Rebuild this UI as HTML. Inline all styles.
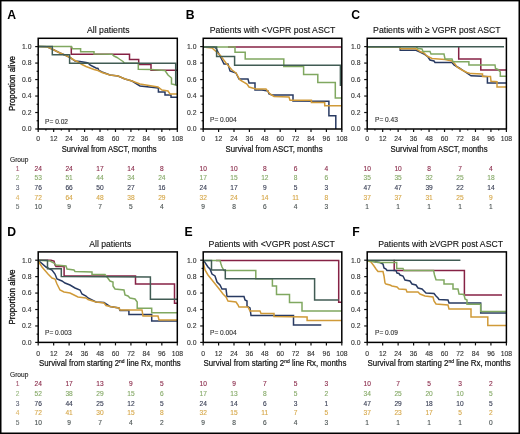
<!DOCTYPE html>
<html><head><meta charset="utf-8"><style>html,body{margin:0;padding:0;background:#fff;width:520px;height:434px;overflow:hidden}</style></head>
<body>
<svg width="520" height="434" viewBox="0 0 520 434" style="display:block;will-change:transform;font-family:'Liberation Sans', sans-serif">
<rect x="0" y="0" width="520" height="434" fill="#fff"/>
<polyline points="71.30,46.00 71.30,54.30 129.50,54.30 129.50,59.40 138.70,59.40 138.70,64.40 151.00,64.40 151.00,70.20 177.30,70.20" fill="none" stroke="#862245" stroke-width="1.5" stroke-linejoin="miter" stroke-linecap="butt"/>
<polyline points="38.20,46.60 47.00,46.80 52.00,49.00 60.00,53.00 66.00,55.50 70.00,57.50 75.00,61.00 80.00,61.50 86.00,62.50 88.00,63.00 90.00,65.00 93.00,66.50 96.00,68.00 98.00,68.50 99.00,70.50 102.00,72.00 110.00,75.00 118.00,76.00 125.00,79.00 132.00,81.00 140.00,86.00 158.40,88.00 158.40,92.00 165.00,92.00 165.00,95.00 171.00,95.00 171.00,97.20 177.30,97.20" fill="none" stroke="#283a62" stroke-width="1.5" stroke-linejoin="miter" stroke-linecap="butt"/>
<polyline points="38.20,46.60 47.00,46.80 52.00,49.00 60.00,53.00 66.00,55.50 70.00,57.50 74.00,60.00 78.00,62.00 82.00,64.50 86.00,66.50 90.00,68.00 94.00,69.50 98.00,70.50 102.00,72.50 110.00,75.00 118.00,76.00 125.00,79.00 132.00,81.00 140.00,84.00 146.00,85.00 158.00,87.00 162.00,90.00 168.00,91.00 170.00,94.00 177.30,94.00" fill="none" stroke="#d09a38" stroke-width="1.5" stroke-linejoin="miter" stroke-linecap="butt"/>
<polyline points="38.20,46.60 71.50,46.60 72.50,48.80 80.60,48.80 80.60,51.80 94.00,51.80 94.00,53.90 112.00,54.20 114.00,56.00 117.00,57.50 120.00,59.50 123.00,61.50 124.50,63.30 138.30,63.30 138.30,69.30 151.00,69.60 165.00,70.50 168.00,75.00 171.50,78.00 171.50,84.00 174.00,84.50 177.30,85.50" fill="none" stroke="#80a860" stroke-width="1.5" stroke-linejoin="miter" stroke-linecap="butt"/>
<polyline points="38.20,46.60 52.30,46.60 52.30,54.70 69.60,54.70 69.60,63.30 175.70,63.30 175.70,85.20" fill="none" stroke="#415c54" stroke-width="1.5" stroke-linejoin="miter" stroke-linecap="butt"/>
<rect x="38.20" y="38.30" width="139.10" height="90.70" fill="none" stroke="#000" stroke-width="1.5"/>
<line x1="35.20" y1="129.00" x2="38.20" y2="129.00" stroke="#111" stroke-width="1.2"/>
<text x="31.50" y="131.40" font-size="6.8" text-anchor="end" fill="#333" font-weight="normal" stroke="#333" stroke-width="0.12" >0.0</text>
<line x1="36.60" y1="120.76" x2="38.20" y2="120.76" stroke="#111" stroke-width="1.2"/>
<line x1="35.20" y1="112.52" x2="38.20" y2="112.52" stroke="#111" stroke-width="1.2"/>
<text x="31.50" y="114.92" font-size="6.8" text-anchor="end" fill="#333" font-weight="normal" stroke="#333" stroke-width="0.12" >0.2</text>
<line x1="36.60" y1="104.28" x2="38.20" y2="104.28" stroke="#111" stroke-width="1.2"/>
<line x1="35.20" y1="96.04" x2="38.20" y2="96.04" stroke="#111" stroke-width="1.2"/>
<text x="31.50" y="98.44" font-size="6.8" text-anchor="end" fill="#333" font-weight="normal" stroke="#333" stroke-width="0.12" >0.4</text>
<line x1="36.60" y1="87.80" x2="38.20" y2="87.80" stroke="#111" stroke-width="1.2"/>
<line x1="35.20" y1="79.56" x2="38.20" y2="79.56" stroke="#111" stroke-width="1.2"/>
<text x="31.50" y="81.96" font-size="6.8" text-anchor="end" fill="#333" font-weight="normal" stroke="#333" stroke-width="0.12" >0.6</text>
<line x1="36.60" y1="71.32" x2="38.20" y2="71.32" stroke="#111" stroke-width="1.2"/>
<line x1="35.20" y1="63.08" x2="38.20" y2="63.08" stroke="#111" stroke-width="1.2"/>
<text x="31.50" y="65.48" font-size="6.8" text-anchor="end" fill="#333" font-weight="normal" stroke="#333" stroke-width="0.12" >0.8</text>
<line x1="36.60" y1="54.84" x2="38.20" y2="54.84" stroke="#111" stroke-width="1.2"/>
<line x1="35.20" y1="46.60" x2="38.20" y2="46.60" stroke="#111" stroke-width="1.2"/>
<text x="31.50" y="49.00" font-size="6.8" text-anchor="end" fill="#333" font-weight="normal" stroke="#333" stroke-width="0.12" >1.0</text>
<line x1="38.20" y1="129.00" x2="38.20" y2="132.00" stroke="#111" stroke-width="1.2"/>
<text x="38.20" y="140.80" font-size="6.8" text-anchor="middle" fill="#333" font-weight="normal" stroke="#333" stroke-width="0.12" >0</text>
<line x1="45.93" y1="129.00" x2="45.93" y2="130.40" stroke="#111" stroke-width="1.2"/>
<line x1="53.66" y1="129.00" x2="53.66" y2="132.00" stroke="#111" stroke-width="1.2"/>
<text x="53.66" y="140.80" font-size="6.8" text-anchor="middle" fill="#333" font-weight="normal" stroke="#333" stroke-width="0.12" >12</text>
<line x1="61.38" y1="129.00" x2="61.38" y2="130.40" stroke="#111" stroke-width="1.2"/>
<line x1="69.11" y1="129.00" x2="69.11" y2="132.00" stroke="#111" stroke-width="1.2"/>
<text x="69.11" y="140.80" font-size="6.8" text-anchor="middle" fill="#333" font-weight="normal" stroke="#333" stroke-width="0.12" >24</text>
<line x1="76.84" y1="129.00" x2="76.84" y2="130.40" stroke="#111" stroke-width="1.2"/>
<line x1="84.57" y1="129.00" x2="84.57" y2="132.00" stroke="#111" stroke-width="1.2"/>
<text x="84.57" y="140.80" font-size="6.8" text-anchor="middle" fill="#333" font-weight="normal" stroke="#333" stroke-width="0.12" >36</text>
<line x1="92.29" y1="129.00" x2="92.29" y2="130.40" stroke="#111" stroke-width="1.2"/>
<line x1="100.02" y1="129.00" x2="100.02" y2="132.00" stroke="#111" stroke-width="1.2"/>
<text x="100.02" y="140.80" font-size="6.8" text-anchor="middle" fill="#333" font-weight="normal" stroke="#333" stroke-width="0.12" >48</text>
<line x1="107.75" y1="129.00" x2="107.75" y2="130.40" stroke="#111" stroke-width="1.2"/>
<line x1="115.48" y1="129.00" x2="115.48" y2="132.00" stroke="#111" stroke-width="1.2"/>
<text x="115.48" y="140.80" font-size="6.8" text-anchor="middle" fill="#333" font-weight="normal" stroke="#333" stroke-width="0.12" >60</text>
<line x1="123.21" y1="129.00" x2="123.21" y2="130.40" stroke="#111" stroke-width="1.2"/>
<line x1="130.93" y1="129.00" x2="130.93" y2="132.00" stroke="#111" stroke-width="1.2"/>
<text x="130.93" y="140.80" font-size="6.8" text-anchor="middle" fill="#333" font-weight="normal" stroke="#333" stroke-width="0.12" >72</text>
<line x1="138.66" y1="129.00" x2="138.66" y2="130.40" stroke="#111" stroke-width="1.2"/>
<line x1="146.39" y1="129.00" x2="146.39" y2="132.00" stroke="#111" stroke-width="1.2"/>
<text x="146.39" y="140.80" font-size="6.8" text-anchor="middle" fill="#333" font-weight="normal" stroke="#333" stroke-width="0.12" >84</text>
<line x1="154.12" y1="129.00" x2="154.12" y2="130.40" stroke="#111" stroke-width="1.2"/>
<line x1="161.84" y1="129.00" x2="161.84" y2="132.00" stroke="#111" stroke-width="1.2"/>
<text x="161.84" y="140.80" font-size="6.8" text-anchor="middle" fill="#333" font-weight="normal" stroke="#333" stroke-width="0.12" >96</text>
<line x1="169.57" y1="129.00" x2="169.57" y2="130.40" stroke="#111" stroke-width="1.2"/>
<line x1="177.30" y1="129.00" x2="177.30" y2="132.00" stroke="#111" stroke-width="1.2"/>
<text x="177.30" y="140.80" font-size="6.8" text-anchor="middle" fill="#333" font-weight="normal" stroke="#333" stroke-width="0.12" >108</text>
<text x="7.30" y="18.70" font-size="12.2" text-anchor="start" fill="#000" font-weight="bold" >A</text>
<text x="87.00" y="33.10" font-size="9.4" text-anchor="start" fill="#111" font-weight="normal" stroke="#111" stroke-width="0.12" textLength="42.5" lengthAdjust="spacingAndGlyphs" >All patients</text>
<text x="45.10" y="123.50" font-size="6.6" text-anchor="start" fill="#333" font-weight="normal" stroke="#333" stroke-width="0.12" >P= 0.02</text>
<text x="61.70" y="152.00" font-size="8.8" fill="#111" stroke="#111" stroke-width="0.2" textLength="95" lengthAdjust="spacingAndGlyphs">Survival from ASCT, months</text>
<text x="0" y="0" font-size="8.4" fill="#111" stroke="#111" stroke-width="0.3" text-anchor="middle" textLength="55" lengthAdjust="spacingAndGlyphs" transform="translate(15.4,83.50) rotate(-90)">Proportion alive</text>
<polyline points="228.00,46.90 341.80,46.90" fill="none" stroke="#862245" stroke-width="1.5" stroke-linejoin="miter" stroke-linecap="butt"/>
<polyline points="203.20,46.90 214.00,47.00 216.00,48.00 218.00,52.00 220.00,56.00 222.00,60.00 224.00,64.00 228.00,64.00 230.00,71.00 236.00,73.00 239.00,79.00 248.00,79.00 249.00,83.00 255.00,83.00 255.00,90.00 262.00,90.00 268.00,91.00 269.00,94.00 272.00,95.00 293.00,95.00 293.00,101.00 328.90,101.20 328.90,115.70 335.80,115.70 335.80,129.00" fill="none" stroke="#283a62" stroke-width="1.5" stroke-linejoin="miter" stroke-linecap="butt"/>
<polyline points="203.20,46.90 212.00,48.00 220.00,55.00 226.00,63.00 232.00,70.00 236.00,73.00 240.00,80.00 247.00,84.00 249.00,87.00 256.00,89.00 266.00,89.00 270.00,94.00 274.00,96.50 289.00,97.00 290.00,100.30 311.40,100.30 311.40,102.60 324.70,102.60 324.70,105.80 341.80,105.80" fill="none" stroke="#d09a38" stroke-width="1.5" stroke-linejoin="miter" stroke-linecap="butt"/>
<polyline points="203.20,46.90 235.00,46.90 235.00,52.30 245.20,52.30 245.20,58.90 283.80,58.90 283.80,66.50 303.60,66.50 303.60,74.60 317.80,74.60 317.80,82.50 335.30,82.50 335.30,98.10 341.80,98.10" fill="none" stroke="#80a860" stroke-width="1.5" stroke-linejoin="miter" stroke-linecap="butt"/>
<polyline points="203.20,46.90 216.60,46.90 216.60,56.40 234.60,56.40 234.60,65.20 340.40,65.20 340.40,86.00" fill="none" stroke="#415c54" stroke-width="1.5" stroke-linejoin="miter" stroke-linecap="butt"/>
<rect x="203.20" y="38.30" width="138.60" height="90.70" fill="none" stroke="#000" stroke-width="1.5"/>
<line x1="200.20" y1="129.00" x2="203.20" y2="129.00" stroke="#111" stroke-width="1.2"/>
<text x="196.50" y="131.40" font-size="6.8" text-anchor="end" fill="#333" font-weight="normal" stroke="#333" stroke-width="0.12" >0.0</text>
<line x1="201.60" y1="120.76" x2="203.20" y2="120.76" stroke="#111" stroke-width="1.2"/>
<line x1="200.20" y1="112.52" x2="203.20" y2="112.52" stroke="#111" stroke-width="1.2"/>
<text x="196.50" y="114.92" font-size="6.8" text-anchor="end" fill="#333" font-weight="normal" stroke="#333" stroke-width="0.12" >0.2</text>
<line x1="201.60" y1="104.28" x2="203.20" y2="104.28" stroke="#111" stroke-width="1.2"/>
<line x1="200.20" y1="96.04" x2="203.20" y2="96.04" stroke="#111" stroke-width="1.2"/>
<text x="196.50" y="98.44" font-size="6.8" text-anchor="end" fill="#333" font-weight="normal" stroke="#333" stroke-width="0.12" >0.4</text>
<line x1="201.60" y1="87.80" x2="203.20" y2="87.80" stroke="#111" stroke-width="1.2"/>
<line x1="200.20" y1="79.56" x2="203.20" y2="79.56" stroke="#111" stroke-width="1.2"/>
<text x="196.50" y="81.96" font-size="6.8" text-anchor="end" fill="#333" font-weight="normal" stroke="#333" stroke-width="0.12" >0.6</text>
<line x1="201.60" y1="71.32" x2="203.20" y2="71.32" stroke="#111" stroke-width="1.2"/>
<line x1="200.20" y1="63.08" x2="203.20" y2="63.08" stroke="#111" stroke-width="1.2"/>
<text x="196.50" y="65.48" font-size="6.8" text-anchor="end" fill="#333" font-weight="normal" stroke="#333" stroke-width="0.12" >0.8</text>
<line x1="201.60" y1="54.84" x2="203.20" y2="54.84" stroke="#111" stroke-width="1.2"/>
<line x1="200.20" y1="46.60" x2="203.20" y2="46.60" stroke="#111" stroke-width="1.2"/>
<text x="196.50" y="49.00" font-size="6.8" text-anchor="end" fill="#333" font-weight="normal" stroke="#333" stroke-width="0.12" >1.0</text>
<line x1="203.20" y1="129.00" x2="203.20" y2="132.00" stroke="#111" stroke-width="1.2"/>
<text x="203.20" y="140.80" font-size="6.8" text-anchor="middle" fill="#333" font-weight="normal" stroke="#333" stroke-width="0.12" >0</text>
<line x1="218.60" y1="129.00" x2="218.60" y2="132.00" stroke="#111" stroke-width="1.2"/>
<text x="218.60" y="140.80" font-size="6.8" text-anchor="middle" fill="#333" font-weight="normal" stroke="#333" stroke-width="0.12" >12</text>
<line x1="234.00" y1="129.00" x2="234.00" y2="132.00" stroke="#111" stroke-width="1.2"/>
<text x="234.00" y="140.80" font-size="6.8" text-anchor="middle" fill="#333" font-weight="normal" stroke="#333" stroke-width="0.12" >24</text>
<line x1="249.40" y1="129.00" x2="249.40" y2="132.00" stroke="#111" stroke-width="1.2"/>
<text x="249.40" y="140.80" font-size="6.8" text-anchor="middle" fill="#333" font-weight="normal" stroke="#333" stroke-width="0.12" >36</text>
<line x1="264.80" y1="129.00" x2="264.80" y2="132.00" stroke="#111" stroke-width="1.2"/>
<text x="264.80" y="140.80" font-size="6.8" text-anchor="middle" fill="#333" font-weight="normal" stroke="#333" stroke-width="0.12" >48</text>
<line x1="280.20" y1="129.00" x2="280.20" y2="132.00" stroke="#111" stroke-width="1.2"/>
<text x="280.20" y="140.80" font-size="6.8" text-anchor="middle" fill="#333" font-weight="normal" stroke="#333" stroke-width="0.12" >60</text>
<line x1="295.60" y1="129.00" x2="295.60" y2="132.00" stroke="#111" stroke-width="1.2"/>
<text x="295.60" y="140.80" font-size="6.8" text-anchor="middle" fill="#333" font-weight="normal" stroke="#333" stroke-width="0.12" >72</text>
<line x1="311.00" y1="129.00" x2="311.00" y2="132.00" stroke="#111" stroke-width="1.2"/>
<text x="311.00" y="140.80" font-size="6.8" text-anchor="middle" fill="#333" font-weight="normal" stroke="#333" stroke-width="0.12" >84</text>
<line x1="326.40" y1="129.00" x2="326.40" y2="132.00" stroke="#111" stroke-width="1.2"/>
<text x="326.40" y="140.80" font-size="6.8" text-anchor="middle" fill="#333" font-weight="normal" stroke="#333" stroke-width="0.12" >96</text>
<line x1="341.80" y1="129.00" x2="341.80" y2="132.00" stroke="#111" stroke-width="1.2"/>
<text x="341.80" y="140.80" font-size="6.8" text-anchor="middle" fill="#333" font-weight="normal" stroke="#333" stroke-width="0.12" >108</text>
<text x="185.80" y="18.70" font-size="12.2" text-anchor="start" fill="#000" font-weight="bold" >B</text>
<text x="209.80" y="33.10" font-size="9.4" text-anchor="start" fill="#111" font-weight="normal" stroke="#111" stroke-width="0.12" textLength="125.5" lengthAdjust="spacingAndGlyphs" >Patients with &lt;VGPR post ASCT</text>
<text x="210.00" y="122.30" font-size="6.6" text-anchor="start" fill="#333" font-weight="normal" stroke="#333" stroke-width="0.12" >P= 0.004</text>
<text x="225.60" y="152.00" font-size="8.8" fill="#111" stroke="#111" stroke-width="0.2" textLength="97" lengthAdjust="spacingAndGlyphs">Survival from ASCT, months</text>
<polyline points="458.70,46.00 458.70,58.90 480.80,58.90 480.80,70.00 506.40,70.00" fill="none" stroke="#862245" stroke-width="1.5" stroke-linejoin="miter" stroke-linecap="butt"/>
<polyline points="367.20,46.70 400.20,46.70 400.20,50.30 416.00,50.30 420.00,52.00 424.00,54.00 428.00,57.00 430.00,60.00 434.00,61.00 435.00,62.50 452.00,62.50 454.00,65.00 460.00,68.50 466.00,72.50 471.00,75.80 482.50,76.30 487.40,76.60 487.40,82.90 506.40,82.90" fill="none" stroke="#283a62" stroke-width="1.5" stroke-linejoin="miter" stroke-linecap="butt"/>
<polyline points="367.20,46.70 400.20,46.70 400.20,48.80 416.00,48.80 418.00,50.00 420.00,51.50 424.00,53.00 426.00,55.00 428.00,56.50 432.00,58.50 445.00,59.50 452.00,61.00 455.00,64.00 457.00,67.00 462.00,70.00 467.00,72.50 471.00,73.60 482.50,74.00 482.50,76.50 490.50,76.50 491.00,81.20 497.00,81.80 497.00,86.90 506.40,86.90" fill="none" stroke="#d09a38" stroke-width="1.5" stroke-linejoin="miter" stroke-linecap="butt"/>
<polyline points="367.20,46.70 416.00,46.80 418.00,48.50 422.00,49.00 423.00,51.50 430.00,51.50 431.00,54.00 444.00,54.00 445.00,59.00 452.00,59.00 453.00,61.80 468.90,61.80 468.90,64.90 495.00,64.90 495.50,68.50 498.00,69.50 500.30,72.00 500.30,76.30 506.40,76.30" fill="none" stroke="#80a860" stroke-width="1.5" stroke-linejoin="miter" stroke-linecap="butt"/>
<polyline points="367.20,46.70 504.00,46.70" fill="none" stroke="#415c54" stroke-width="1.5" stroke-linejoin="miter" stroke-linecap="butt"/>
<rect x="367.20" y="38.30" width="139.20" height="90.70" fill="none" stroke="#000" stroke-width="1.5"/>
<line x1="364.20" y1="129.00" x2="367.20" y2="129.00" stroke="#111" stroke-width="1.2"/>
<text x="360.50" y="131.40" font-size="6.8" text-anchor="end" fill="#333" font-weight="normal" stroke="#333" stroke-width="0.12" >0.0</text>
<line x1="365.60" y1="120.76" x2="367.20" y2="120.76" stroke="#111" stroke-width="1.2"/>
<line x1="364.20" y1="112.52" x2="367.20" y2="112.52" stroke="#111" stroke-width="1.2"/>
<text x="360.50" y="114.92" font-size="6.8" text-anchor="end" fill="#333" font-weight="normal" stroke="#333" stroke-width="0.12" >0.2</text>
<line x1="365.60" y1="104.28" x2="367.20" y2="104.28" stroke="#111" stroke-width="1.2"/>
<line x1="364.20" y1="96.04" x2="367.20" y2="96.04" stroke="#111" stroke-width="1.2"/>
<text x="360.50" y="98.44" font-size="6.8" text-anchor="end" fill="#333" font-weight="normal" stroke="#333" stroke-width="0.12" >0.4</text>
<line x1="365.60" y1="87.80" x2="367.20" y2="87.80" stroke="#111" stroke-width="1.2"/>
<line x1="364.20" y1="79.56" x2="367.20" y2="79.56" stroke="#111" stroke-width="1.2"/>
<text x="360.50" y="81.96" font-size="6.8" text-anchor="end" fill="#333" font-weight="normal" stroke="#333" stroke-width="0.12" >0.6</text>
<line x1="365.60" y1="71.32" x2="367.20" y2="71.32" stroke="#111" stroke-width="1.2"/>
<line x1="364.20" y1="63.08" x2="367.20" y2="63.08" stroke="#111" stroke-width="1.2"/>
<text x="360.50" y="65.48" font-size="6.8" text-anchor="end" fill="#333" font-weight="normal" stroke="#333" stroke-width="0.12" >0.8</text>
<line x1="365.60" y1="54.84" x2="367.20" y2="54.84" stroke="#111" stroke-width="1.2"/>
<line x1="364.20" y1="46.60" x2="367.20" y2="46.60" stroke="#111" stroke-width="1.2"/>
<text x="360.50" y="49.00" font-size="6.8" text-anchor="end" fill="#333" font-weight="normal" stroke="#333" stroke-width="0.12" >1.0</text>
<line x1="367.20" y1="129.00" x2="367.20" y2="132.00" stroke="#111" stroke-width="1.2"/>
<text x="367.20" y="140.80" font-size="6.8" text-anchor="middle" fill="#333" font-weight="normal" stroke="#333" stroke-width="0.12" >0</text>
<line x1="374.93" y1="129.00" x2="374.93" y2="130.40" stroke="#111" stroke-width="1.2"/>
<line x1="382.67" y1="129.00" x2="382.67" y2="132.00" stroke="#111" stroke-width="1.2"/>
<text x="382.67" y="140.80" font-size="6.8" text-anchor="middle" fill="#333" font-weight="normal" stroke="#333" stroke-width="0.12" >12</text>
<line x1="390.40" y1="129.00" x2="390.40" y2="130.40" stroke="#111" stroke-width="1.2"/>
<line x1="398.13" y1="129.00" x2="398.13" y2="132.00" stroke="#111" stroke-width="1.2"/>
<text x="398.13" y="140.80" font-size="6.8" text-anchor="middle" fill="#333" font-weight="normal" stroke="#333" stroke-width="0.12" >24</text>
<line x1="405.87" y1="129.00" x2="405.87" y2="130.40" stroke="#111" stroke-width="1.2"/>
<line x1="413.60" y1="129.00" x2="413.60" y2="132.00" stroke="#111" stroke-width="1.2"/>
<text x="413.60" y="140.80" font-size="6.8" text-anchor="middle" fill="#333" font-weight="normal" stroke="#333" stroke-width="0.12" >36</text>
<line x1="421.33" y1="129.00" x2="421.33" y2="130.40" stroke="#111" stroke-width="1.2"/>
<line x1="429.07" y1="129.00" x2="429.07" y2="132.00" stroke="#111" stroke-width="1.2"/>
<text x="429.07" y="140.80" font-size="6.8" text-anchor="middle" fill="#333" font-weight="normal" stroke="#333" stroke-width="0.12" >48</text>
<line x1="436.80" y1="129.00" x2="436.80" y2="130.40" stroke="#111" stroke-width="1.2"/>
<line x1="444.53" y1="129.00" x2="444.53" y2="132.00" stroke="#111" stroke-width="1.2"/>
<text x="444.53" y="140.80" font-size="6.8" text-anchor="middle" fill="#333" font-weight="normal" stroke="#333" stroke-width="0.12" >60</text>
<line x1="452.27" y1="129.00" x2="452.27" y2="130.40" stroke="#111" stroke-width="1.2"/>
<line x1="460.00" y1="129.00" x2="460.00" y2="132.00" stroke="#111" stroke-width="1.2"/>
<text x="460.00" y="140.80" font-size="6.8" text-anchor="middle" fill="#333" font-weight="normal" stroke="#333" stroke-width="0.12" >72</text>
<line x1="467.73" y1="129.00" x2="467.73" y2="130.40" stroke="#111" stroke-width="1.2"/>
<line x1="475.47" y1="129.00" x2="475.47" y2="132.00" stroke="#111" stroke-width="1.2"/>
<text x="475.47" y="140.80" font-size="6.8" text-anchor="middle" fill="#333" font-weight="normal" stroke="#333" stroke-width="0.12" >84</text>
<line x1="483.20" y1="129.00" x2="483.20" y2="130.40" stroke="#111" stroke-width="1.2"/>
<line x1="490.93" y1="129.00" x2="490.93" y2="132.00" stroke="#111" stroke-width="1.2"/>
<text x="490.93" y="140.80" font-size="6.8" text-anchor="middle" fill="#333" font-weight="normal" stroke="#333" stroke-width="0.12" >96</text>
<line x1="498.67" y1="129.00" x2="498.67" y2="130.40" stroke="#111" stroke-width="1.2"/>
<line x1="506.40" y1="129.00" x2="506.40" y2="132.00" stroke="#111" stroke-width="1.2"/>
<text x="506.40" y="140.80" font-size="6.8" text-anchor="middle" fill="#333" font-weight="normal" stroke="#333" stroke-width="0.12" >108</text>
<text x="351.20" y="18.70" font-size="12.2" text-anchor="start" fill="#000" font-weight="bold" >C</text>
<text x="373.10" y="33.10" font-size="9.4" text-anchor="start" fill="#111" font-weight="normal" stroke="#111" stroke-width="0.12" textLength="127.5" lengthAdjust="spacingAndGlyphs" >Patients with ≥ VGPR post ASCT</text>
<text x="375.00" y="121.80" font-size="6.6" text-anchor="start" fill="#333" font-weight="normal" stroke="#333" stroke-width="0.12" >P= 0.43</text>
<text x="390.60" y="152.00" font-size="8.8" fill="#111" stroke="#111" stroke-width="0.2" textLength="97" lengthAdjust="spacingAndGlyphs">Survival from ASCT, months</text>
<polyline points="38.20,260.20 51.00,260.20 54.00,261.00 55.00,265.00 56.00,266.40 64.10,266.40 64.10,275.90 135.50,276.10 135.50,284.00 174.50,284.00 174.50,303.20 177.30,303.20" fill="none" stroke="#862245" stroke-width="1.5" stroke-linejoin="miter" stroke-linecap="butt"/>
<polyline points="38.20,260.20 46.00,267.00 52.00,270.00 55.00,274.00 57.00,279.00 62.00,281.00 65.00,283.00 70.00,285.00 75.00,288.00 80.00,290.00 82.00,294.00 86.00,296.00 88.00,298.00 96.00,302.00 104.00,302.50 108.00,305.00 110.00,306.50 119.00,308.00 120.00,310.50 128.90,310.50 128.90,314.50 151.70,314.50 151.70,321.00 177.30,321.00" fill="none" stroke="#283a62" stroke-width="1.5" stroke-linejoin="miter" stroke-linecap="butt"/>
<polyline points="38.20,261.00 42.00,267.00 48.00,274.00 52.00,278.00 55.00,279.00 57.00,284.00 60.00,290.00 64.00,292.00 70.00,293.00 72.00,294.00 78.00,297.00 86.00,298.00 88.00,299.50 96.00,302.00 104.00,303.00 106.00,305.50 110.00,306.50 119.00,308.00 120.00,310.00 142.00,310.00 143.00,316.00 158.00,316.00 159.00,320.00 177.30,320.00" fill="none" stroke="#d09a38" stroke-width="1.5" stroke-linejoin="miter" stroke-linecap="butt"/>
<polyline points="38.20,260.20 50.00,261.00 54.00,263.00 56.00,265.00 66.00,266.00 67.00,269.00 74.00,270.00 75.00,271.50 92.00,272.00 92.00,274.50 105.00,274.50 107.00,277.00 110.00,281.00 113.00,282.00 113.00,286.00 115.00,289.00 124.00,290.00 125.00,295.00 128.00,296.00 130.00,298.00 135.00,299.00 137.20,302.00 137.20,308.30 151.70,308.30 151.70,312.80 177.30,312.80" fill="none" stroke="#80a860" stroke-width="1.5" stroke-linejoin="miter" stroke-linecap="butt"/>
<polyline points="38.20,260.20 47.50,260.20 47.50,268.70 61.30,268.70 61.30,276.60 150.40,277.00 150.40,299.30 177.30,299.30" fill="none" stroke="#415c54" stroke-width="1.5" stroke-linejoin="miter" stroke-linecap="butt"/>
<rect x="38.20" y="251.90" width="139.10" height="90.50" fill="none" stroke="#000" stroke-width="1.5"/>
<line x1="35.20" y1="342.40" x2="38.20" y2="342.40" stroke="#111" stroke-width="1.2"/>
<text x="31.50" y="344.80" font-size="6.8" text-anchor="end" fill="#333" font-weight="normal" stroke="#333" stroke-width="0.12" >0.0</text>
<line x1="36.60" y1="334.18" x2="38.20" y2="334.18" stroke="#111" stroke-width="1.2"/>
<line x1="35.20" y1="325.96" x2="38.20" y2="325.96" stroke="#111" stroke-width="1.2"/>
<text x="31.50" y="328.36" font-size="6.8" text-anchor="end" fill="#333" font-weight="normal" stroke="#333" stroke-width="0.12" >0.2</text>
<line x1="36.60" y1="317.74" x2="38.20" y2="317.74" stroke="#111" stroke-width="1.2"/>
<line x1="35.20" y1="309.52" x2="38.20" y2="309.52" stroke="#111" stroke-width="1.2"/>
<text x="31.50" y="311.92" font-size="6.8" text-anchor="end" fill="#333" font-weight="normal" stroke="#333" stroke-width="0.12" >0.4</text>
<line x1="36.60" y1="301.30" x2="38.20" y2="301.30" stroke="#111" stroke-width="1.2"/>
<line x1="35.20" y1="293.08" x2="38.20" y2="293.08" stroke="#111" stroke-width="1.2"/>
<text x="31.50" y="295.48" font-size="6.8" text-anchor="end" fill="#333" font-weight="normal" stroke="#333" stroke-width="0.12" >0.6</text>
<line x1="36.60" y1="284.86" x2="38.20" y2="284.86" stroke="#111" stroke-width="1.2"/>
<line x1="35.20" y1="276.64" x2="38.20" y2="276.64" stroke="#111" stroke-width="1.2"/>
<text x="31.50" y="279.04" font-size="6.8" text-anchor="end" fill="#333" font-weight="normal" stroke="#333" stroke-width="0.12" >0.8</text>
<line x1="36.60" y1="268.42" x2="38.20" y2="268.42" stroke="#111" stroke-width="1.2"/>
<line x1="35.20" y1="260.20" x2="38.20" y2="260.20" stroke="#111" stroke-width="1.2"/>
<text x="31.50" y="262.60" font-size="6.8" text-anchor="end" fill="#333" font-weight="normal" stroke="#333" stroke-width="0.12" >1.0</text>
<line x1="38.20" y1="342.40" x2="38.20" y2="345.40" stroke="#111" stroke-width="1.2"/>
<text x="38.20" y="356.10" font-size="6.8" text-anchor="middle" fill="#333" font-weight="normal" stroke="#333" stroke-width="0.12" >0</text>
<line x1="53.66" y1="342.40" x2="53.66" y2="345.40" stroke="#111" stroke-width="1.2"/>
<text x="53.66" y="356.10" font-size="6.8" text-anchor="middle" fill="#333" font-weight="normal" stroke="#333" stroke-width="0.12" >12</text>
<line x1="69.11" y1="342.40" x2="69.11" y2="345.40" stroke="#111" stroke-width="1.2"/>
<text x="69.11" y="356.10" font-size="6.8" text-anchor="middle" fill="#333" font-weight="normal" stroke="#333" stroke-width="0.12" >24</text>
<line x1="84.57" y1="342.40" x2="84.57" y2="345.40" stroke="#111" stroke-width="1.2"/>
<text x="84.57" y="356.10" font-size="6.8" text-anchor="middle" fill="#333" font-weight="normal" stroke="#333" stroke-width="0.12" >36</text>
<line x1="100.02" y1="342.40" x2="100.02" y2="345.40" stroke="#111" stroke-width="1.2"/>
<text x="100.02" y="356.10" font-size="6.8" text-anchor="middle" fill="#333" font-weight="normal" stroke="#333" stroke-width="0.12" >48</text>
<line x1="115.48" y1="342.40" x2="115.48" y2="345.40" stroke="#111" stroke-width="1.2"/>
<text x="115.48" y="356.10" font-size="6.8" text-anchor="middle" fill="#333" font-weight="normal" stroke="#333" stroke-width="0.12" >60</text>
<line x1="130.93" y1="342.40" x2="130.93" y2="345.40" stroke="#111" stroke-width="1.2"/>
<text x="130.93" y="356.10" font-size="6.8" text-anchor="middle" fill="#333" font-weight="normal" stroke="#333" stroke-width="0.12" >72</text>
<line x1="146.39" y1="342.40" x2="146.39" y2="345.40" stroke="#111" stroke-width="1.2"/>
<text x="146.39" y="356.10" font-size="6.8" text-anchor="middle" fill="#333" font-weight="normal" stroke="#333" stroke-width="0.12" >84</text>
<line x1="161.84" y1="342.40" x2="161.84" y2="345.40" stroke="#111" stroke-width="1.2"/>
<text x="161.84" y="356.10" font-size="6.8" text-anchor="middle" fill="#333" font-weight="normal" stroke="#333" stroke-width="0.12" >96</text>
<line x1="177.30" y1="342.40" x2="177.30" y2="345.40" stroke="#111" stroke-width="1.2"/>
<text x="177.30" y="356.10" font-size="6.8" text-anchor="middle" fill="#333" font-weight="normal" stroke="#333" stroke-width="0.12" >108</text>
<text x="7.30" y="235.80" font-size="12.2" text-anchor="start" fill="#000" font-weight="bold" >D</text>
<text x="89.30" y="246.70" font-size="9.4" text-anchor="start" fill="#111" font-weight="normal" stroke="#111" stroke-width="0.12" textLength="42" lengthAdjust="spacingAndGlyphs" >All patients</text>
<text x="45.00" y="334.90" font-size="6.6" text-anchor="start" fill="#333" font-weight="normal" stroke="#333" stroke-width="0.12" >P= 0.003</text>
<text x="39.00" y="366.20" font-size="8.8" fill="#111" stroke="#111" stroke-width="0.2" textLength="141.7" lengthAdjust="spacingAndGlyphs">Survival from starting 2<tspan font-size="5.5" dy="-3">nd</tspan><tspan dy="3"> line Rx, months</tspan></text>
<text x="0" y="0" font-size="8.4" fill="#111" stroke="#111" stroke-width="0.3" text-anchor="middle" textLength="55" lengthAdjust="spacingAndGlyphs" transform="translate(15.4,297.00) rotate(-90)">Proportion alive</text>
<polyline points="216.00,260.60 338.70,260.60 338.70,302.20 341.80,302.20" fill="none" stroke="#862245" stroke-width="1.5" stroke-linejoin="miter" stroke-linecap="butt"/>
<polyline points="203.20,260.60 204.00,261.00 208.00,267.00 210.00,269.00 212.00,274.00 215.00,276.00 217.00,282.00 220.00,285.00 222.00,289.00 226.00,289.00 227.00,296.50 244.00,296.50 245.00,300.00 247.00,301.00 247.00,306.00 250.00,308.00 251.00,315.50 293.50,315.50 293.50,325.00 321.30,325.00" fill="none" stroke="#283a62" stroke-width="1.5" stroke-linejoin="miter" stroke-linecap="butt"/>
<polyline points="203.20,262.00 205.00,270.00 208.00,275.00 212.00,280.00 216.00,285.00 220.00,290.00 223.00,294.00 226.00,297.00 228.00,301.00 236.00,302.00 238.00,305.00 239.00,307.00 248.00,307.00 250.00,311.00 260.00,311.00 261.00,313.50 274.00,313.50 274.00,316.50 307.10,316.90 307.10,320.40 341.80,320.40" fill="none" stroke="#d09a38" stroke-width="1.5" stroke-linejoin="miter" stroke-linecap="butt"/>
<polyline points="203.20,260.60 220.00,260.60 221.00,264.00 222.00,267.00 224.00,270.60 255.80,270.60 255.80,278.70 272.40,278.70 272.40,286.00 276.50,286.00 276.50,294.50 289.50,294.50 289.50,302.50 302.00,302.50 302.00,311.10 341.80,311.10" fill="none" stroke="#80a860" stroke-width="1.5" stroke-linejoin="miter" stroke-linecap="butt"/>
<polyline points="203.20,260.60 211.50,260.60 211.50,270.10 225.30,270.10 225.30,278.70 314.60,278.80 314.60,300.10 338.70,300.10" fill="none" stroke="#415c54" stroke-width="1.5" stroke-linejoin="miter" stroke-linecap="butt"/>
<rect x="203.20" y="251.90" width="138.60" height="90.50" fill="none" stroke="#000" stroke-width="1.5"/>
<line x1="200.20" y1="342.40" x2="203.20" y2="342.40" stroke="#111" stroke-width="1.2"/>
<text x="196.50" y="344.80" font-size="6.8" text-anchor="end" fill="#333" font-weight="normal" stroke="#333" stroke-width="0.12" >0.0</text>
<line x1="201.60" y1="334.18" x2="203.20" y2="334.18" stroke="#111" stroke-width="1.2"/>
<line x1="200.20" y1="325.96" x2="203.20" y2="325.96" stroke="#111" stroke-width="1.2"/>
<text x="196.50" y="328.36" font-size="6.8" text-anchor="end" fill="#333" font-weight="normal" stroke="#333" stroke-width="0.12" >0.2</text>
<line x1="201.60" y1="317.74" x2="203.20" y2="317.74" stroke="#111" stroke-width="1.2"/>
<line x1="200.20" y1="309.52" x2="203.20" y2="309.52" stroke="#111" stroke-width="1.2"/>
<text x="196.50" y="311.92" font-size="6.8" text-anchor="end" fill="#333" font-weight="normal" stroke="#333" stroke-width="0.12" >0.4</text>
<line x1="201.60" y1="301.30" x2="203.20" y2="301.30" stroke="#111" stroke-width="1.2"/>
<line x1="200.20" y1="293.08" x2="203.20" y2="293.08" stroke="#111" stroke-width="1.2"/>
<text x="196.50" y="295.48" font-size="6.8" text-anchor="end" fill="#333" font-weight="normal" stroke="#333" stroke-width="0.12" >0.6</text>
<line x1="201.60" y1="284.86" x2="203.20" y2="284.86" stroke="#111" stroke-width="1.2"/>
<line x1="200.20" y1="276.64" x2="203.20" y2="276.64" stroke="#111" stroke-width="1.2"/>
<text x="196.50" y="279.04" font-size="6.8" text-anchor="end" fill="#333" font-weight="normal" stroke="#333" stroke-width="0.12" >0.8</text>
<line x1="201.60" y1="268.42" x2="203.20" y2="268.42" stroke="#111" stroke-width="1.2"/>
<line x1="200.20" y1="260.20" x2="203.20" y2="260.20" stroke="#111" stroke-width="1.2"/>
<text x="196.50" y="262.60" font-size="6.8" text-anchor="end" fill="#333" font-weight="normal" stroke="#333" stroke-width="0.12" >1.0</text>
<line x1="203.20" y1="342.40" x2="203.20" y2="345.40" stroke="#111" stroke-width="1.2"/>
<text x="203.20" y="356.10" font-size="6.8" text-anchor="middle" fill="#333" font-weight="normal" stroke="#333" stroke-width="0.12" >0</text>
<line x1="218.60" y1="342.40" x2="218.60" y2="345.40" stroke="#111" stroke-width="1.2"/>
<text x="218.60" y="356.10" font-size="6.8" text-anchor="middle" fill="#333" font-weight="normal" stroke="#333" stroke-width="0.12" >12</text>
<line x1="234.00" y1="342.40" x2="234.00" y2="345.40" stroke="#111" stroke-width="1.2"/>
<text x="234.00" y="356.10" font-size="6.8" text-anchor="middle" fill="#333" font-weight="normal" stroke="#333" stroke-width="0.12" >24</text>
<line x1="249.40" y1="342.40" x2="249.40" y2="345.40" stroke="#111" stroke-width="1.2"/>
<text x="249.40" y="356.10" font-size="6.8" text-anchor="middle" fill="#333" font-weight="normal" stroke="#333" stroke-width="0.12" >36</text>
<line x1="264.80" y1="342.40" x2="264.80" y2="345.40" stroke="#111" stroke-width="1.2"/>
<text x="264.80" y="356.10" font-size="6.8" text-anchor="middle" fill="#333" font-weight="normal" stroke="#333" stroke-width="0.12" >48</text>
<line x1="280.20" y1="342.40" x2="280.20" y2="345.40" stroke="#111" stroke-width="1.2"/>
<text x="280.20" y="356.10" font-size="6.8" text-anchor="middle" fill="#333" font-weight="normal" stroke="#333" stroke-width="0.12" >60</text>
<line x1="295.60" y1="342.40" x2="295.60" y2="345.40" stroke="#111" stroke-width="1.2"/>
<text x="295.60" y="356.10" font-size="6.8" text-anchor="middle" fill="#333" font-weight="normal" stroke="#333" stroke-width="0.12" >72</text>
<line x1="311.00" y1="342.40" x2="311.00" y2="345.40" stroke="#111" stroke-width="1.2"/>
<text x="311.00" y="356.10" font-size="6.8" text-anchor="middle" fill="#333" font-weight="normal" stroke="#333" stroke-width="0.12" >84</text>
<line x1="326.40" y1="342.40" x2="326.40" y2="345.40" stroke="#111" stroke-width="1.2"/>
<text x="326.40" y="356.10" font-size="6.8" text-anchor="middle" fill="#333" font-weight="normal" stroke="#333" stroke-width="0.12" >96</text>
<line x1="341.80" y1="342.40" x2="341.80" y2="345.40" stroke="#111" stroke-width="1.2"/>
<text x="341.80" y="356.10" font-size="6.8" text-anchor="middle" fill="#333" font-weight="normal" stroke="#333" stroke-width="0.12" >108</text>
<text x="184.60" y="235.80" font-size="12.2" text-anchor="start" fill="#000" font-weight="bold" >E</text>
<text x="208.60" y="246.70" font-size="9.4" text-anchor="start" fill="#111" font-weight="normal" stroke="#111" stroke-width="0.12" textLength="126.3" lengthAdjust="spacingAndGlyphs" >Patients with &lt;VGPR post ASCT</text>
<text x="210.00" y="334.90" font-size="6.6" text-anchor="start" fill="#333" font-weight="normal" stroke="#333" stroke-width="0.12" >P= 0.004</text>
<text x="203.40" y="366.20" font-size="8.8" fill="#111" stroke="#111" stroke-width="0.2" textLength="143" lengthAdjust="spacingAndGlyphs">Survival from starting 2<tspan font-size="5.5" dy="-3">nd</tspan><tspan dy="3"> line Rx, months</tspan></text>
<polyline points="394.20,259.70 394.20,270.50 464.40,270.50 464.40,295.00 502.00,295.00" fill="none" stroke="#862245" stroke-width="1.5" stroke-linejoin="miter" stroke-linecap="butt"/>
<polyline points="367.20,260.40 380.00,262.50 383.00,264.00 384.00,268.00 386.00,269.00 387.00,270.50 396.00,270.50 397.00,273.00 399.00,273.50 400.00,275.00 403.00,276.00 405.00,280.00 410.00,281.00 412.00,284.00 416.00,285.00 418.00,288.00 422.00,289.00 424.00,291.00 426.00,293.00 434.00,293.50 436.00,296.00 438.00,298.00 439.00,299.50 448.00,300.00 449.00,303.00 480.70,303.00 480.70,312.90 506.40,312.90" fill="none" stroke="#283a62" stroke-width="1.5" stroke-linejoin="miter" stroke-linecap="butt"/>
<polyline points="367.20,260.40 371.00,262.00 374.00,266.00 376.00,269.00 378.00,271.50 383.00,271.50 384.00,276.00 385.00,283.00 386.00,284.00 390.00,285.00 392.00,286.00 397.00,287.00 399.00,289.00 406.00,289.50 407.00,292.00 418.00,292.00 420.00,294.00 425.00,296.00 433.00,297.00 434.00,301.00 436.00,304.00 448.00,305.00 449.00,309.00 471.00,309.00 471.00,317.00 487.80,317.00 487.80,325.60 506.40,325.60" fill="none" stroke="#d09a38" stroke-width="1.5" stroke-linejoin="miter" stroke-linecap="butt"/>
<polyline points="367.20,260.40 378.00,262.60 396.70,262.60 396.70,268.40 403.00,268.60 404.00,270.50 433.60,270.50 434.50,275.00 436.00,279.80 444.00,280.00 444.00,284.00 453.00,284.00 453.00,289.00 458.00,289.00 459.00,294.00 464.00,294.50 465.00,299.00 467.00,300.00 467.00,304.30 480.70,304.30 480.70,311.40 506.40,311.40" fill="none" stroke="#80a860" stroke-width="1.5" stroke-linejoin="miter" stroke-linecap="butt"/>
<polyline points="367.20,260.20 460.40,260.20" fill="none" stroke="#415c54" stroke-width="1.5" stroke-linejoin="miter" stroke-linecap="butt"/>
<rect x="367.20" y="251.90" width="139.20" height="90.50" fill="none" stroke="#000" stroke-width="1.5"/>
<line x1="364.20" y1="342.40" x2="367.20" y2="342.40" stroke="#111" stroke-width="1.2"/>
<text x="360.50" y="344.80" font-size="6.8" text-anchor="end" fill="#333" font-weight="normal" stroke="#333" stroke-width="0.12" >0.0</text>
<line x1="365.60" y1="334.18" x2="367.20" y2="334.18" stroke="#111" stroke-width="1.2"/>
<line x1="364.20" y1="325.96" x2="367.20" y2="325.96" stroke="#111" stroke-width="1.2"/>
<text x="360.50" y="328.36" font-size="6.8" text-anchor="end" fill="#333" font-weight="normal" stroke="#333" stroke-width="0.12" >0.2</text>
<line x1="365.60" y1="317.74" x2="367.20" y2="317.74" stroke="#111" stroke-width="1.2"/>
<line x1="364.20" y1="309.52" x2="367.20" y2="309.52" stroke="#111" stroke-width="1.2"/>
<text x="360.50" y="311.92" font-size="6.8" text-anchor="end" fill="#333" font-weight="normal" stroke="#333" stroke-width="0.12" >0.4</text>
<line x1="365.60" y1="301.30" x2="367.20" y2="301.30" stroke="#111" stroke-width="1.2"/>
<line x1="364.20" y1="293.08" x2="367.20" y2="293.08" stroke="#111" stroke-width="1.2"/>
<text x="360.50" y="295.48" font-size="6.8" text-anchor="end" fill="#333" font-weight="normal" stroke="#333" stroke-width="0.12" >0.6</text>
<line x1="365.60" y1="284.86" x2="367.20" y2="284.86" stroke="#111" stroke-width="1.2"/>
<line x1="364.20" y1="276.64" x2="367.20" y2="276.64" stroke="#111" stroke-width="1.2"/>
<text x="360.50" y="279.04" font-size="6.8" text-anchor="end" fill="#333" font-weight="normal" stroke="#333" stroke-width="0.12" >0.8</text>
<line x1="365.60" y1="268.42" x2="367.20" y2="268.42" stroke="#111" stroke-width="1.2"/>
<line x1="364.20" y1="260.20" x2="367.20" y2="260.20" stroke="#111" stroke-width="1.2"/>
<text x="360.50" y="262.60" font-size="6.8" text-anchor="end" fill="#333" font-weight="normal" stroke="#333" stroke-width="0.12" >1.0</text>
<line x1="367.20" y1="342.40" x2="367.20" y2="345.40" stroke="#111" stroke-width="1.2"/>
<text x="367.20" y="356.10" font-size="6.8" text-anchor="middle" fill="#333" font-weight="normal" stroke="#333" stroke-width="0.12" >0</text>
<line x1="382.67" y1="342.40" x2="382.67" y2="345.40" stroke="#111" stroke-width="1.2"/>
<text x="382.67" y="356.10" font-size="6.8" text-anchor="middle" fill="#333" font-weight="normal" stroke="#333" stroke-width="0.12" >12</text>
<line x1="398.13" y1="342.40" x2="398.13" y2="345.40" stroke="#111" stroke-width="1.2"/>
<text x="398.13" y="356.10" font-size="6.8" text-anchor="middle" fill="#333" font-weight="normal" stroke="#333" stroke-width="0.12" >24</text>
<line x1="413.60" y1="342.40" x2="413.60" y2="345.40" stroke="#111" stroke-width="1.2"/>
<text x="413.60" y="356.10" font-size="6.8" text-anchor="middle" fill="#333" font-weight="normal" stroke="#333" stroke-width="0.12" >36</text>
<line x1="429.07" y1="342.40" x2="429.07" y2="345.40" stroke="#111" stroke-width="1.2"/>
<text x="429.07" y="356.10" font-size="6.8" text-anchor="middle" fill="#333" font-weight="normal" stroke="#333" stroke-width="0.12" >48</text>
<line x1="444.53" y1="342.40" x2="444.53" y2="345.40" stroke="#111" stroke-width="1.2"/>
<text x="444.53" y="356.10" font-size="6.8" text-anchor="middle" fill="#333" font-weight="normal" stroke="#333" stroke-width="0.12" >60</text>
<line x1="460.00" y1="342.40" x2="460.00" y2="345.40" stroke="#111" stroke-width="1.2"/>
<text x="460.00" y="356.10" font-size="6.8" text-anchor="middle" fill="#333" font-weight="normal" stroke="#333" stroke-width="0.12" >72</text>
<line x1="475.47" y1="342.40" x2="475.47" y2="345.40" stroke="#111" stroke-width="1.2"/>
<text x="475.47" y="356.10" font-size="6.8" text-anchor="middle" fill="#333" font-weight="normal" stroke="#333" stroke-width="0.12" >84</text>
<line x1="490.93" y1="342.40" x2="490.93" y2="345.40" stroke="#111" stroke-width="1.2"/>
<text x="490.93" y="356.10" font-size="6.8" text-anchor="middle" fill="#333" font-weight="normal" stroke="#333" stroke-width="0.12" >96</text>
<line x1="506.40" y1="342.40" x2="506.40" y2="345.40" stroke="#111" stroke-width="1.2"/>
<text x="506.40" y="356.10" font-size="6.8" text-anchor="middle" fill="#333" font-weight="normal" stroke="#333" stroke-width="0.12" >108</text>
<text x="352.30" y="235.80" font-size="12.2" text-anchor="start" fill="#000" font-weight="bold" >F</text>
<text x="378.20" y="246.70" font-size="9.4" text-anchor="start" fill="#111" font-weight="normal" stroke="#111" stroke-width="0.12" textLength="124.8" lengthAdjust="spacingAndGlyphs" >Patients with ≥VGPR post ASCT</text>
<text x="375.00" y="334.90" font-size="6.6" text-anchor="start" fill="#333" font-weight="normal" stroke="#333" stroke-width="0.12" >P= 0.09</text>
<text x="367.50" y="366.20" font-size="8.8" fill="#111" stroke="#111" stroke-width="0.2" textLength="143.3" lengthAdjust="spacingAndGlyphs">Survival from starting 2<tspan font-size="5.5" dy="-3">nd</tspan><tspan dy="3"> line Rx, months</tspan></text>
<text x="10.00" y="161.50" font-size="6.6" text-anchor="start" fill="#222" font-weight="normal" stroke="#222" stroke-width="0.12" >Group</text>
<text x="17.70" y="170.80" font-size="6.6" text-anchor="middle" fill="#8a2a4a" font-weight="normal" stroke="#8a2a4a" stroke-width="0.12" opacity="0.8">1</text>
<text x="38.20" y="170.80" font-size="6.6" text-anchor="middle" fill="#8a2a4a" font-weight="normal" stroke="#8a2a4a" stroke-width="0.12" >24</text>
<text x="69.11" y="170.80" font-size="6.6" text-anchor="middle" fill="#8a2a4a" font-weight="normal" stroke="#8a2a4a" stroke-width="0.12" >24</text>
<text x="100.02" y="170.80" font-size="6.6" text-anchor="middle" fill="#8a2a4a" font-weight="normal" stroke="#8a2a4a" stroke-width="0.12" >17</text>
<text x="130.93" y="170.80" font-size="6.6" text-anchor="middle" fill="#8a2a4a" font-weight="normal" stroke="#8a2a4a" stroke-width="0.12" >14</text>
<text x="161.84" y="170.80" font-size="6.6" text-anchor="middle" fill="#8a2a4a" font-weight="normal" stroke="#8a2a4a" stroke-width="0.12" >8</text>
<text x="17.70" y="180.40" font-size="6.6" text-anchor="middle" fill="#86aa68" font-weight="normal" stroke="#86aa68" stroke-width="0.12" opacity="0.8">2</text>
<text x="38.20" y="180.40" font-size="6.6" text-anchor="middle" fill="#86aa68" font-weight="normal" stroke="#86aa68" stroke-width="0.12" >53</text>
<text x="69.11" y="180.40" font-size="6.6" text-anchor="middle" fill="#86aa68" font-weight="normal" stroke="#86aa68" stroke-width="0.12" >51</text>
<text x="100.02" y="180.40" font-size="6.6" text-anchor="middle" fill="#86aa68" font-weight="normal" stroke="#86aa68" stroke-width="0.12" >44</text>
<text x="130.93" y="180.40" font-size="6.6" text-anchor="middle" fill="#86aa68" font-weight="normal" stroke="#86aa68" stroke-width="0.12" >34</text>
<text x="161.84" y="180.40" font-size="6.6" text-anchor="middle" fill="#86aa68" font-weight="normal" stroke="#86aa68" stroke-width="0.12" >24</text>
<text x="17.70" y="190.00" font-size="6.6" text-anchor="middle" fill="#363c52" font-weight="normal" stroke="#363c52" stroke-width="0.12" opacity="0.8">3</text>
<text x="38.20" y="190.00" font-size="6.6" text-anchor="middle" fill="#363c52" font-weight="normal" stroke="#363c52" stroke-width="0.12" >76</text>
<text x="69.11" y="190.00" font-size="6.6" text-anchor="middle" fill="#363c52" font-weight="normal" stroke="#363c52" stroke-width="0.12" >66</text>
<text x="100.02" y="190.00" font-size="6.6" text-anchor="middle" fill="#363c52" font-weight="normal" stroke="#363c52" stroke-width="0.12" >50</text>
<text x="130.93" y="190.00" font-size="6.6" text-anchor="middle" fill="#363c52" font-weight="normal" stroke="#363c52" stroke-width="0.12" >27</text>
<text x="161.84" y="190.00" font-size="6.6" text-anchor="middle" fill="#363c52" font-weight="normal" stroke="#363c52" stroke-width="0.12" >16</text>
<text x="17.70" y="199.60" font-size="6.6" text-anchor="middle" fill="#d6a84a" font-weight="normal" stroke="#d6a84a" stroke-width="0.12" opacity="0.8">4</text>
<text x="38.20" y="199.60" font-size="6.6" text-anchor="middle" fill="#d6a84a" font-weight="normal" stroke="#d6a84a" stroke-width="0.12" >72</text>
<text x="69.11" y="199.60" font-size="6.6" text-anchor="middle" fill="#d6a84a" font-weight="normal" stroke="#d6a84a" stroke-width="0.12" >64</text>
<text x="100.02" y="199.60" font-size="6.6" text-anchor="middle" fill="#d6a84a" font-weight="normal" stroke="#d6a84a" stroke-width="0.12" >48</text>
<text x="130.93" y="199.60" font-size="6.6" text-anchor="middle" fill="#d6a84a" font-weight="normal" stroke="#d6a84a" stroke-width="0.12" >38</text>
<text x="161.84" y="199.60" font-size="6.6" text-anchor="middle" fill="#d6a84a" font-weight="normal" stroke="#d6a84a" stroke-width="0.12" >29</text>
<text x="17.70" y="209.20" font-size="6.6" text-anchor="middle" fill="#4a5252" font-weight="normal" stroke="#4a5252" stroke-width="0.12" opacity="0.8">5</text>
<text x="38.20" y="209.20" font-size="6.6" text-anchor="middle" fill="#4a5252" font-weight="normal" stroke="#4a5252" stroke-width="0.12" >10</text>
<text x="69.11" y="209.20" font-size="6.6" text-anchor="middle" fill="#4a5252" font-weight="normal" stroke="#4a5252" stroke-width="0.12" >9</text>
<text x="100.02" y="209.20" font-size="6.6" text-anchor="middle" fill="#4a5252" font-weight="normal" stroke="#4a5252" stroke-width="0.12" >7</text>
<text x="130.93" y="209.20" font-size="6.6" text-anchor="middle" fill="#4a5252" font-weight="normal" stroke="#4a5252" stroke-width="0.12" >5</text>
<text x="161.84" y="209.20" font-size="6.6" text-anchor="middle" fill="#4a5252" font-weight="normal" stroke="#4a5252" stroke-width="0.12" >4</text>
<text x="203.20" y="170.80" font-size="6.6" text-anchor="middle" fill="#8a2a4a" font-weight="normal" stroke="#8a2a4a" stroke-width="0.12" >10</text>
<text x="234.00" y="170.80" font-size="6.6" text-anchor="middle" fill="#8a2a4a" font-weight="normal" stroke="#8a2a4a" stroke-width="0.12" >10</text>
<text x="264.80" y="170.80" font-size="6.6" text-anchor="middle" fill="#8a2a4a" font-weight="normal" stroke="#8a2a4a" stroke-width="0.12" >8</text>
<text x="295.60" y="170.80" font-size="6.6" text-anchor="middle" fill="#8a2a4a" font-weight="normal" stroke="#8a2a4a" stroke-width="0.12" >6</text>
<text x="326.40" y="170.80" font-size="6.6" text-anchor="middle" fill="#8a2a4a" font-weight="normal" stroke="#8a2a4a" stroke-width="0.12" >4</text>
<text x="203.20" y="180.40" font-size="6.6" text-anchor="middle" fill="#86aa68" font-weight="normal" stroke="#86aa68" stroke-width="0.12" >17</text>
<text x="234.00" y="180.40" font-size="6.6" text-anchor="middle" fill="#86aa68" font-weight="normal" stroke="#86aa68" stroke-width="0.12" >15</text>
<text x="264.80" y="180.40" font-size="6.6" text-anchor="middle" fill="#86aa68" font-weight="normal" stroke="#86aa68" stroke-width="0.12" >12</text>
<text x="295.60" y="180.40" font-size="6.6" text-anchor="middle" fill="#86aa68" font-weight="normal" stroke="#86aa68" stroke-width="0.12" >8</text>
<text x="326.40" y="180.40" font-size="6.6" text-anchor="middle" fill="#86aa68" font-weight="normal" stroke="#86aa68" stroke-width="0.12" >6</text>
<text x="203.20" y="190.00" font-size="6.6" text-anchor="middle" fill="#363c52" font-weight="normal" stroke="#363c52" stroke-width="0.12" >24</text>
<text x="234.00" y="190.00" font-size="6.6" text-anchor="middle" fill="#363c52" font-weight="normal" stroke="#363c52" stroke-width="0.12" >17</text>
<text x="264.80" y="190.00" font-size="6.6" text-anchor="middle" fill="#363c52" font-weight="normal" stroke="#363c52" stroke-width="0.12" >9</text>
<text x="295.60" y="190.00" font-size="6.6" text-anchor="middle" fill="#363c52" font-weight="normal" stroke="#363c52" stroke-width="0.12" >5</text>
<text x="326.40" y="190.00" font-size="6.6" text-anchor="middle" fill="#363c52" font-weight="normal" stroke="#363c52" stroke-width="0.12" >3</text>
<text x="203.20" y="199.60" font-size="6.6" text-anchor="middle" fill="#d6a84a" font-weight="normal" stroke="#d6a84a" stroke-width="0.12" >32</text>
<text x="234.00" y="199.60" font-size="6.6" text-anchor="middle" fill="#d6a84a" font-weight="normal" stroke="#d6a84a" stroke-width="0.12" >24</text>
<text x="264.80" y="199.60" font-size="6.6" text-anchor="middle" fill="#d6a84a" font-weight="normal" stroke="#d6a84a" stroke-width="0.12" >14</text>
<text x="295.60" y="199.60" font-size="6.6" text-anchor="middle" fill="#d6a84a" font-weight="normal" stroke="#d6a84a" stroke-width="0.12" >11</text>
<text x="326.40" y="199.60" font-size="6.6" text-anchor="middle" fill="#d6a84a" font-weight="normal" stroke="#d6a84a" stroke-width="0.12" >8</text>
<text x="203.20" y="209.20" font-size="6.6" text-anchor="middle" fill="#4a5252" font-weight="normal" stroke="#4a5252" stroke-width="0.12" >9</text>
<text x="234.00" y="209.20" font-size="6.6" text-anchor="middle" fill="#4a5252" font-weight="normal" stroke="#4a5252" stroke-width="0.12" >8</text>
<text x="264.80" y="209.20" font-size="6.6" text-anchor="middle" fill="#4a5252" font-weight="normal" stroke="#4a5252" stroke-width="0.12" >6</text>
<text x="295.60" y="209.20" font-size="6.6" text-anchor="middle" fill="#4a5252" font-weight="normal" stroke="#4a5252" stroke-width="0.12" >4</text>
<text x="326.40" y="209.20" font-size="6.6" text-anchor="middle" fill="#4a5252" font-weight="normal" stroke="#4a5252" stroke-width="0.12" >3</text>
<text x="367.20" y="170.80" font-size="6.6" text-anchor="middle" fill="#8a2a4a" font-weight="normal" stroke="#8a2a4a" stroke-width="0.12" >10</text>
<text x="398.13" y="170.80" font-size="6.6" text-anchor="middle" fill="#8a2a4a" font-weight="normal" stroke="#8a2a4a" stroke-width="0.12" >10</text>
<text x="429.07" y="170.80" font-size="6.6" text-anchor="middle" fill="#8a2a4a" font-weight="normal" stroke="#8a2a4a" stroke-width="0.12" >8</text>
<text x="460.00" y="170.80" font-size="6.6" text-anchor="middle" fill="#8a2a4a" font-weight="normal" stroke="#8a2a4a" stroke-width="0.12" >7</text>
<text x="490.93" y="170.80" font-size="6.6" text-anchor="middle" fill="#8a2a4a" font-weight="normal" stroke="#8a2a4a" stroke-width="0.12" >4</text>
<text x="367.20" y="180.40" font-size="6.6" text-anchor="middle" fill="#86aa68" font-weight="normal" stroke="#86aa68" stroke-width="0.12" >35</text>
<text x="398.13" y="180.40" font-size="6.6" text-anchor="middle" fill="#86aa68" font-weight="normal" stroke="#86aa68" stroke-width="0.12" >35</text>
<text x="429.07" y="180.40" font-size="6.6" text-anchor="middle" fill="#86aa68" font-weight="normal" stroke="#86aa68" stroke-width="0.12" >32</text>
<text x="460.00" y="180.40" font-size="6.6" text-anchor="middle" fill="#86aa68" font-weight="normal" stroke="#86aa68" stroke-width="0.12" >25</text>
<text x="490.93" y="180.40" font-size="6.6" text-anchor="middle" fill="#86aa68" font-weight="normal" stroke="#86aa68" stroke-width="0.12" >18</text>
<text x="367.20" y="190.00" font-size="6.6" text-anchor="middle" fill="#363c52" font-weight="normal" stroke="#363c52" stroke-width="0.12" >47</text>
<text x="398.13" y="190.00" font-size="6.6" text-anchor="middle" fill="#363c52" font-weight="normal" stroke="#363c52" stroke-width="0.12" >47</text>
<text x="429.07" y="190.00" font-size="6.6" text-anchor="middle" fill="#363c52" font-weight="normal" stroke="#363c52" stroke-width="0.12" >39</text>
<text x="460.00" y="190.00" font-size="6.6" text-anchor="middle" fill="#363c52" font-weight="normal" stroke="#363c52" stroke-width="0.12" >22</text>
<text x="490.93" y="190.00" font-size="6.6" text-anchor="middle" fill="#363c52" font-weight="normal" stroke="#363c52" stroke-width="0.12" >14</text>
<text x="367.20" y="199.60" font-size="6.6" text-anchor="middle" fill="#d6a84a" font-weight="normal" stroke="#d6a84a" stroke-width="0.12" >37</text>
<text x="398.13" y="199.60" font-size="6.6" text-anchor="middle" fill="#d6a84a" font-weight="normal" stroke="#d6a84a" stroke-width="0.12" >37</text>
<text x="429.07" y="199.60" font-size="6.6" text-anchor="middle" fill="#d6a84a" font-weight="normal" stroke="#d6a84a" stroke-width="0.12" >31</text>
<text x="460.00" y="199.60" font-size="6.6" text-anchor="middle" fill="#d6a84a" font-weight="normal" stroke="#d6a84a" stroke-width="0.12" >25</text>
<text x="490.93" y="199.60" font-size="6.6" text-anchor="middle" fill="#d6a84a" font-weight="normal" stroke="#d6a84a" stroke-width="0.12" >9</text>
<text x="367.20" y="209.20" font-size="6.6" text-anchor="middle" fill="#4a5252" font-weight="normal" stroke="#4a5252" stroke-width="0.12" >1</text>
<text x="398.13" y="209.20" font-size="6.6" text-anchor="middle" fill="#4a5252" font-weight="normal" stroke="#4a5252" stroke-width="0.12" >1</text>
<text x="429.07" y="209.20" font-size="6.6" text-anchor="middle" fill="#4a5252" font-weight="normal" stroke="#4a5252" stroke-width="0.12" >1</text>
<text x="460.00" y="209.20" font-size="6.6" text-anchor="middle" fill="#4a5252" font-weight="normal" stroke="#4a5252" stroke-width="0.12" >1</text>
<text x="490.93" y="209.20" font-size="6.6" text-anchor="middle" fill="#4a5252" font-weight="normal" stroke="#4a5252" stroke-width="0.12" >1</text>
<text x="10.00" y="376.90" font-size="6.6" text-anchor="start" fill="#222" font-weight="normal" stroke="#222" stroke-width="0.12" >Group</text>
<text x="17.70" y="386.20" font-size="6.6" text-anchor="middle" fill="#8a2a4a" font-weight="normal" stroke="#8a2a4a" stroke-width="0.12" opacity="0.8">1</text>
<text x="38.20" y="386.20" font-size="6.6" text-anchor="middle" fill="#8a2a4a" font-weight="normal" stroke="#8a2a4a" stroke-width="0.12" >24</text>
<text x="69.11" y="386.20" font-size="6.6" text-anchor="middle" fill="#8a2a4a" font-weight="normal" stroke="#8a2a4a" stroke-width="0.12" >17</text>
<text x="100.02" y="386.20" font-size="6.6" text-anchor="middle" fill="#8a2a4a" font-weight="normal" stroke="#8a2a4a" stroke-width="0.12" >13</text>
<text x="130.93" y="386.20" font-size="6.6" text-anchor="middle" fill="#8a2a4a" font-weight="normal" stroke="#8a2a4a" stroke-width="0.12" >9</text>
<text x="161.84" y="386.20" font-size="6.6" text-anchor="middle" fill="#8a2a4a" font-weight="normal" stroke="#8a2a4a" stroke-width="0.12" >5</text>
<text x="17.70" y="395.95" font-size="6.6" text-anchor="middle" fill="#86aa68" font-weight="normal" stroke="#86aa68" stroke-width="0.12" opacity="0.8">2</text>
<text x="38.20" y="395.95" font-size="6.6" text-anchor="middle" fill="#86aa68" font-weight="normal" stroke="#86aa68" stroke-width="0.12" >52</text>
<text x="69.11" y="395.95" font-size="6.6" text-anchor="middle" fill="#86aa68" font-weight="normal" stroke="#86aa68" stroke-width="0.12" >38</text>
<text x="100.02" y="395.95" font-size="6.6" text-anchor="middle" fill="#86aa68" font-weight="normal" stroke="#86aa68" stroke-width="0.12" >29</text>
<text x="130.93" y="395.95" font-size="6.6" text-anchor="middle" fill="#86aa68" font-weight="normal" stroke="#86aa68" stroke-width="0.12" >15</text>
<text x="161.84" y="395.95" font-size="6.6" text-anchor="middle" fill="#86aa68" font-weight="normal" stroke="#86aa68" stroke-width="0.12" >6</text>
<text x="17.70" y="405.70" font-size="6.6" text-anchor="middle" fill="#363c52" font-weight="normal" stroke="#363c52" stroke-width="0.12" opacity="0.8">3</text>
<text x="38.20" y="405.70" font-size="6.6" text-anchor="middle" fill="#363c52" font-weight="normal" stroke="#363c52" stroke-width="0.12" >76</text>
<text x="69.11" y="405.70" font-size="6.6" text-anchor="middle" fill="#363c52" font-weight="normal" stroke="#363c52" stroke-width="0.12" >44</text>
<text x="100.02" y="405.70" font-size="6.6" text-anchor="middle" fill="#363c52" font-weight="normal" stroke="#363c52" stroke-width="0.12" >25</text>
<text x="130.93" y="405.70" font-size="6.6" text-anchor="middle" fill="#363c52" font-weight="normal" stroke="#363c52" stroke-width="0.12" >12</text>
<text x="161.84" y="405.70" font-size="6.6" text-anchor="middle" fill="#363c52" font-weight="normal" stroke="#363c52" stroke-width="0.12" >5</text>
<text x="17.70" y="415.45" font-size="6.6" text-anchor="middle" fill="#d6a84a" font-weight="normal" stroke="#d6a84a" stroke-width="0.12" opacity="0.8">4</text>
<text x="38.20" y="415.45" font-size="6.6" text-anchor="middle" fill="#d6a84a" font-weight="normal" stroke="#d6a84a" stroke-width="0.12" >72</text>
<text x="69.11" y="415.45" font-size="6.6" text-anchor="middle" fill="#d6a84a" font-weight="normal" stroke="#d6a84a" stroke-width="0.12" >41</text>
<text x="100.02" y="415.45" font-size="6.6" text-anchor="middle" fill="#d6a84a" font-weight="normal" stroke="#d6a84a" stroke-width="0.12" >30</text>
<text x="130.93" y="415.45" font-size="6.6" text-anchor="middle" fill="#d6a84a" font-weight="normal" stroke="#d6a84a" stroke-width="0.12" >15</text>
<text x="161.84" y="415.45" font-size="6.6" text-anchor="middle" fill="#d6a84a" font-weight="normal" stroke="#d6a84a" stroke-width="0.12" >8</text>
<text x="17.70" y="425.20" font-size="6.6" text-anchor="middle" fill="#4a5252" font-weight="normal" stroke="#4a5252" stroke-width="0.12" opacity="0.8">5</text>
<text x="38.20" y="425.20" font-size="6.6" text-anchor="middle" fill="#4a5252" font-weight="normal" stroke="#4a5252" stroke-width="0.12" >10</text>
<text x="69.11" y="425.20" font-size="6.6" text-anchor="middle" fill="#4a5252" font-weight="normal" stroke="#4a5252" stroke-width="0.12" >9</text>
<text x="100.02" y="425.20" font-size="6.6" text-anchor="middle" fill="#4a5252" font-weight="normal" stroke="#4a5252" stroke-width="0.12" >7</text>
<text x="130.93" y="425.20" font-size="6.6" text-anchor="middle" fill="#4a5252" font-weight="normal" stroke="#4a5252" stroke-width="0.12" >4</text>
<text x="161.84" y="425.20" font-size="6.6" text-anchor="middle" fill="#4a5252" font-weight="normal" stroke="#4a5252" stroke-width="0.12" >2</text>
<text x="203.20" y="386.20" font-size="6.6" text-anchor="middle" fill="#8a2a4a" font-weight="normal" stroke="#8a2a4a" stroke-width="0.12" >10</text>
<text x="234.00" y="386.20" font-size="6.6" text-anchor="middle" fill="#8a2a4a" font-weight="normal" stroke="#8a2a4a" stroke-width="0.12" >9</text>
<text x="264.80" y="386.20" font-size="6.6" text-anchor="middle" fill="#8a2a4a" font-weight="normal" stroke="#8a2a4a" stroke-width="0.12" >7</text>
<text x="295.60" y="386.20" font-size="6.6" text-anchor="middle" fill="#8a2a4a" font-weight="normal" stroke="#8a2a4a" stroke-width="0.12" >5</text>
<text x="326.40" y="386.20" font-size="6.6" text-anchor="middle" fill="#8a2a4a" font-weight="normal" stroke="#8a2a4a" stroke-width="0.12" >3</text>
<text x="203.20" y="395.95" font-size="6.6" text-anchor="middle" fill="#86aa68" font-weight="normal" stroke="#86aa68" stroke-width="0.12" >17</text>
<text x="234.00" y="395.95" font-size="6.6" text-anchor="middle" fill="#86aa68" font-weight="normal" stroke="#86aa68" stroke-width="0.12" >13</text>
<text x="264.80" y="395.95" font-size="6.6" text-anchor="middle" fill="#86aa68" font-weight="normal" stroke="#86aa68" stroke-width="0.12" >8</text>
<text x="295.60" y="395.95" font-size="6.6" text-anchor="middle" fill="#86aa68" font-weight="normal" stroke="#86aa68" stroke-width="0.12" >5</text>
<text x="326.40" y="395.95" font-size="6.6" text-anchor="middle" fill="#86aa68" font-weight="normal" stroke="#86aa68" stroke-width="0.12" >2</text>
<text x="203.20" y="405.70" font-size="6.6" text-anchor="middle" fill="#363c52" font-weight="normal" stroke="#363c52" stroke-width="0.12" >24</text>
<text x="234.00" y="405.70" font-size="6.6" text-anchor="middle" fill="#363c52" font-weight="normal" stroke="#363c52" stroke-width="0.12" >14</text>
<text x="264.80" y="405.70" font-size="6.6" text-anchor="middle" fill="#363c52" font-weight="normal" stroke="#363c52" stroke-width="0.12" >6</text>
<text x="295.60" y="405.70" font-size="6.6" text-anchor="middle" fill="#363c52" font-weight="normal" stroke="#363c52" stroke-width="0.12" >3</text>
<text x="326.40" y="405.70" font-size="6.6" text-anchor="middle" fill="#363c52" font-weight="normal" stroke="#363c52" stroke-width="0.12" >1</text>
<text x="203.20" y="415.45" font-size="6.6" text-anchor="middle" fill="#d6a84a" font-weight="normal" stroke="#d6a84a" stroke-width="0.12" >32</text>
<text x="234.00" y="415.45" font-size="6.6" text-anchor="middle" fill="#d6a84a" font-weight="normal" stroke="#d6a84a" stroke-width="0.12" >15</text>
<text x="264.80" y="415.45" font-size="6.6" text-anchor="middle" fill="#d6a84a" font-weight="normal" stroke="#d6a84a" stroke-width="0.12" >11</text>
<text x="295.60" y="415.45" font-size="6.6" text-anchor="middle" fill="#d6a84a" font-weight="normal" stroke="#d6a84a" stroke-width="0.12" >7</text>
<text x="326.40" y="415.45" font-size="6.6" text-anchor="middle" fill="#d6a84a" font-weight="normal" stroke="#d6a84a" stroke-width="0.12" >5</text>
<text x="203.20" y="425.20" font-size="6.6" text-anchor="middle" fill="#4a5252" font-weight="normal" stroke="#4a5252" stroke-width="0.12" >9</text>
<text x="234.00" y="425.20" font-size="6.6" text-anchor="middle" fill="#4a5252" font-weight="normal" stroke="#4a5252" stroke-width="0.12" >8</text>
<text x="264.80" y="425.20" font-size="6.6" text-anchor="middle" fill="#4a5252" font-weight="normal" stroke="#4a5252" stroke-width="0.12" >6</text>
<text x="295.60" y="425.20" font-size="6.6" text-anchor="middle" fill="#4a5252" font-weight="normal" stroke="#4a5252" stroke-width="0.12" >4</text>
<text x="326.40" y="425.20" font-size="6.6" text-anchor="middle" fill="#4a5252" font-weight="normal" stroke="#4a5252" stroke-width="0.12" >3</text>
<text x="367.20" y="386.20" font-size="6.6" text-anchor="middle" fill="#8a2a4a" font-weight="normal" stroke="#8a2a4a" stroke-width="0.12" >10</text>
<text x="398.13" y="386.20" font-size="6.6" text-anchor="middle" fill="#8a2a4a" font-weight="normal" stroke="#8a2a4a" stroke-width="0.12" >7</text>
<text x="429.07" y="386.20" font-size="6.6" text-anchor="middle" fill="#8a2a4a" font-weight="normal" stroke="#8a2a4a" stroke-width="0.12" >5</text>
<text x="460.00" y="386.20" font-size="6.6" text-anchor="middle" fill="#8a2a4a" font-weight="normal" stroke="#8a2a4a" stroke-width="0.12" >3</text>
<text x="490.93" y="386.20" font-size="6.6" text-anchor="middle" fill="#8a2a4a" font-weight="normal" stroke="#8a2a4a" stroke-width="0.12" >2</text>
<text x="367.20" y="395.95" font-size="6.6" text-anchor="middle" fill="#86aa68" font-weight="normal" stroke="#86aa68" stroke-width="0.12" >34</text>
<text x="398.13" y="395.95" font-size="6.6" text-anchor="middle" fill="#86aa68" font-weight="normal" stroke="#86aa68" stroke-width="0.12" >25</text>
<text x="429.07" y="395.95" font-size="6.6" text-anchor="middle" fill="#86aa68" font-weight="normal" stroke="#86aa68" stroke-width="0.12" >20</text>
<text x="460.00" y="395.95" font-size="6.6" text-anchor="middle" fill="#86aa68" font-weight="normal" stroke="#86aa68" stroke-width="0.12" >10</text>
<text x="490.93" y="395.95" font-size="6.6" text-anchor="middle" fill="#86aa68" font-weight="normal" stroke="#86aa68" stroke-width="0.12" >5</text>
<text x="367.20" y="405.70" font-size="6.6" text-anchor="middle" fill="#363c52" font-weight="normal" stroke="#363c52" stroke-width="0.12" >47</text>
<text x="398.13" y="405.70" font-size="6.6" text-anchor="middle" fill="#363c52" font-weight="normal" stroke="#363c52" stroke-width="0.12" >29</text>
<text x="429.07" y="405.70" font-size="6.6" text-anchor="middle" fill="#363c52" font-weight="normal" stroke="#363c52" stroke-width="0.12" >18</text>
<text x="460.00" y="405.70" font-size="6.6" text-anchor="middle" fill="#363c52" font-weight="normal" stroke="#363c52" stroke-width="0.12" >10</text>
<text x="490.93" y="405.70" font-size="6.6" text-anchor="middle" fill="#363c52" font-weight="normal" stroke="#363c52" stroke-width="0.12" >5</text>
<text x="367.20" y="415.45" font-size="6.6" text-anchor="middle" fill="#d6a84a" font-weight="normal" stroke="#d6a84a" stroke-width="0.12" >37</text>
<text x="398.13" y="415.45" font-size="6.6" text-anchor="middle" fill="#d6a84a" font-weight="normal" stroke="#d6a84a" stroke-width="0.12" >23</text>
<text x="429.07" y="415.45" font-size="6.6" text-anchor="middle" fill="#d6a84a" font-weight="normal" stroke="#d6a84a" stroke-width="0.12" >17</text>
<text x="460.00" y="415.45" font-size="6.6" text-anchor="middle" fill="#d6a84a" font-weight="normal" stroke="#d6a84a" stroke-width="0.12" >5</text>
<text x="490.93" y="415.45" font-size="6.6" text-anchor="middle" fill="#d6a84a" font-weight="normal" stroke="#d6a84a" stroke-width="0.12" >2</text>
<text x="367.20" y="425.20" font-size="6.6" text-anchor="middle" fill="#4a5252" font-weight="normal" stroke="#4a5252" stroke-width="0.12" >1</text>
<text x="398.13" y="425.20" font-size="6.6" text-anchor="middle" fill="#4a5252" font-weight="normal" stroke="#4a5252" stroke-width="0.12" >1</text>
<text x="429.07" y="425.20" font-size="6.6" text-anchor="middle" fill="#4a5252" font-weight="normal" stroke="#4a5252" stroke-width="0.12" >1</text>
<text x="460.00" y="425.20" font-size="6.6" text-anchor="middle" fill="#4a5252" font-weight="normal" stroke="#4a5252" stroke-width="0.12" >1</text>
<text x="490.93" y="425.20" font-size="6.6" text-anchor="middle" fill="#4a5252" font-weight="normal" stroke="#4a5252" stroke-width="0.12" >0</text>
<rect x="0" y="0" width="1.5" height="434" fill="#000"/>
<rect x="0" y="0" width="520" height="1.4" fill="#000"/>
<rect x="518.5" y="0" width="1.5" height="434" fill="#000"/>
<rect x="0" y="432.5" width="520" height="1.5" fill="#000"/>
</svg>
</body></html>
